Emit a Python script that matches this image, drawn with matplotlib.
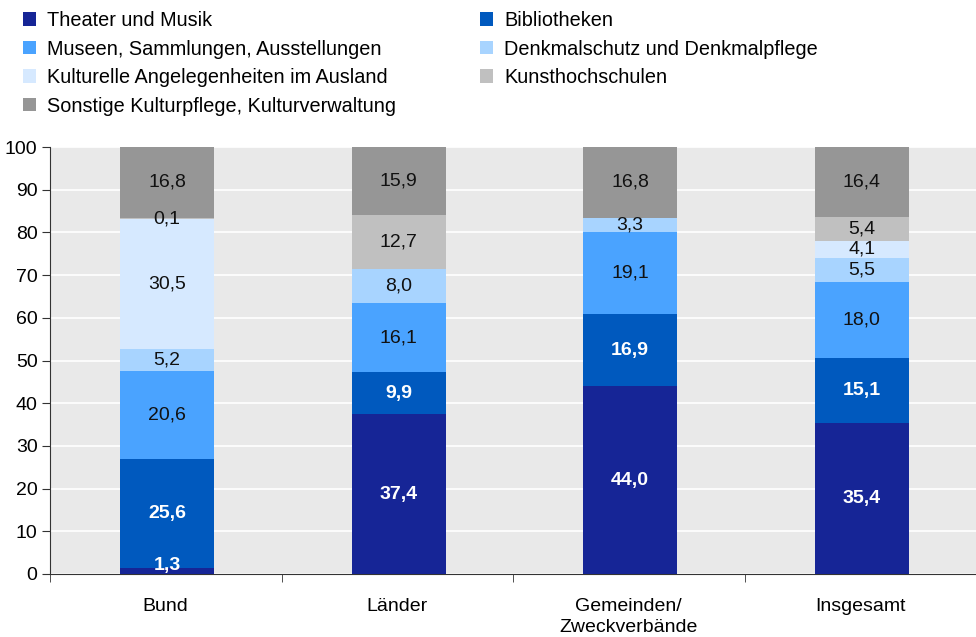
import numpy as np
import matplotlib
matplotlib.use("Agg")
import matplotlib.pyplot as plt
from matplotlib.patches import Patch

plt.rcParams['font.family'] = ['Liberation Sans', 'DejaVu Sans']

categories = ["Bund", "Länder", "Gemeinden/\nZweckverbände", "Insgesamt"]
series_names = [
    "Theater und Musik",
    "Bibliotheken",
    "Museen, Sammlungen, Ausstellungen",
    "Denkmalschutz und Denkmalpflege",
    "Kulturelle Angelegenheiten im Ausland",
    "Kunsthochschulen",
    "Sonstige Kulturpflege, Kulturverwaltung",
]
theater = [1.3, 37.4, 44.0, 35.4]
bibliotheken = [25.6, 9.9, 16.9, 15.1]
museen = [20.6, 16.1, 19.1, 18.0]
denkmal = [5.2, 8.0, 3.3, 5.5]
ausland = [30.5, 0.0, 0.0, 4.1]
kunsthochschulen = [0.1, 12.7, 0.0, 5.4]
sonstige = [16.8, 15.9, 16.8, 16.4]

series = [theater, bibliotheken, museen, denkmal, ausland, kunsthochschulen, sonstige]
colors = ["#162596", "#0059be", "#4aa3ff", "#a8d4ff", "#d6e9ff", "#c0c0c0", "#969696"]
white_text = [True, True, False, False, False, False, False]

fig = plt.figure(figsize=(9.76, 6.37), dpi=100)
ax = fig.add_axes([50 / 976, 63 / 637, 926 / 976, 427 / 637])
ax.set_facecolor("#e9e9e9")

x = np.arange(len(categories))
bottom = np.zeros(len(categories))
for vals, col, wt in zip(series, colors, white_text):
    vals = np.array(vals)
    ax.bar(x + 0.006, vals, bottom=bottom, width=0.405, color=col, zorder=3)
    for xi, v, b in zip(x, vals, bottom):
        if v <= 0:
            continue
        # keep tiny segments' labels from sitting on the axis line
        ty = max(b + v / 2, 2.0)
        ax.text(xi + 0.006, ty, f"{v:.1f}".replace(".", ","),
                ha="center", va="center", fontsize=14, zorder=4,
                color="white" if wt else "#111111",
                fontweight="bold" if wt else "normal")
    bottom += vals

ax.set_xlim(-0.5, 3.5)
ax.set_ylim(0, 100)
ax.set_yticks(range(0, 101, 10))
ax.yaxis.grid(True, color="white", linewidth=1.2, zorder=1)
ax.set_xticks(x)
ax.set_xticklabels(categories, linespacing=1.35)
ax.tick_params(axis="x", which="major", length=0, pad=17, labelsize=14)
ax.set_xticks([-0.5, 0.5, 1.5, 2.5, 3.5], minor=True)
ax.tick_params(axis="x", which="minor", length=6, color="#333333")
ax.tick_params(axis="y", length=6, color="#333333", labelsize=14, pad=3)
for s in ["top", "right"]:
    ax.spines[s].set_visible(False)
for s in ["left", "bottom"]:
    ax.spines[s].set_color("#333333")

handles = [Patch(facecolor=c, edgecolor="none") for c in colors]
left_idx = [0, 2, 4, 6]
right_idx = [1, 3, 5]
leg_kw = dict(frameon=False, fontsize=14.3, handlelength=0.66, handleheight=0.66,
              handletextpad=0.56, labelspacing=0.48, borderaxespad=0, borderpad=0)
leg1 = fig.legend([handles[i] for i in left_idx], [series_names[i] for i in left_idx],
                  loc="upper left", bbox_to_anchor=(23 / 976, 1 - 11 / 637), **leg_kw)
leg2 = fig.legend([handles[i] for i in right_idx], [series_names[i] for i in right_idx],
                  loc="upper left", bbox_to_anchor=(480 / 976, 1 - 11 / 637), **leg_kw)

fig.savefig("out.png", dpi=100)
